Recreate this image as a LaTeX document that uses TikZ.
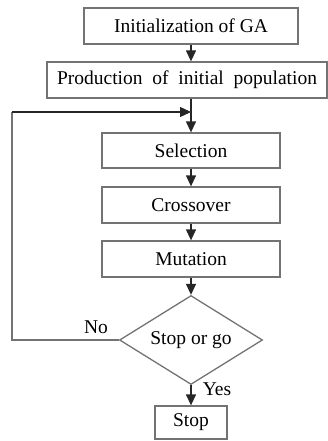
\documentclass[tikz,border=0pt]{standalone}
\usepackage{fontspec}
\setmainfont{Liberation Serif}
\usetikzlibrary{arrows.meta,shapes.geometric}
\begin{document}
\begin{tikzpicture}[x=1pt,y=-1pt,
  box/.style={draw=black!55,line width=1.3pt,inner sep=0pt,font=\fontsize{19.5}{22}\selectfont},
  lab/.style={inner sep=0pt,font=\fontsize{19.5}{22}\selectfont},
  arr/.style={draw=black!85,line width=1.3pt,-{Triangle[width=10pt,length=11pt]}},
  ln/.style={draw=black!55,line width=1.3pt}]
\useasboundingbox (0,0) rectangle (328,441);
\node[box,minimum width=214pt,minimum height=36pt] (init) at (191,26) {Initialization of GA};
\node[box,minimum width=280pt,minimum height=36pt] (prod) at (187,80) {Production \ of \ initial \ population};
\node[box,minimum width=178pt,minimum height=35pt] (sel) at (191,150.5) {Selection};
\node[box,minimum width=178pt,minimum height=36pt] (cross) at (191,205) {Crossover};
\node[box,minimum width=178pt,minimum height=36pt] (mut) at (191,259) {Mutation};
\node[box,shape=diamond,aspect=1.6,minimum width=143pt,minimum height=89pt] (dec) at (191,340) {Stop or go};
\node[box,minimum width=72pt,minimum height=33pt] (stop) at (191,422.5) {Stop};
\node[lab] (no) at (96,327) {No};
\node[lab] (yes) at (217,389) {Yes};
\coordinate (join) at (191,112);
\coordinate (lc) at (12,340);
\draw[arr] (init.south -| sel.north) -- (prod.north -| sel.north);
\draw[arr] (prod.south -| sel.north) -- (sel.north);
\draw[arr] (sel) -- (cross);
\draw[arr] (cross) -- (mut);
\draw[arr] (mut) -- (dec);
\draw[arr] (dec) -- (stop);
\draw[ln] (dec.west) -- (lc) -- (lc |- join);
\draw[arr] (lc |- join) -- (join);
\end{tikzpicture}
\end{document}
